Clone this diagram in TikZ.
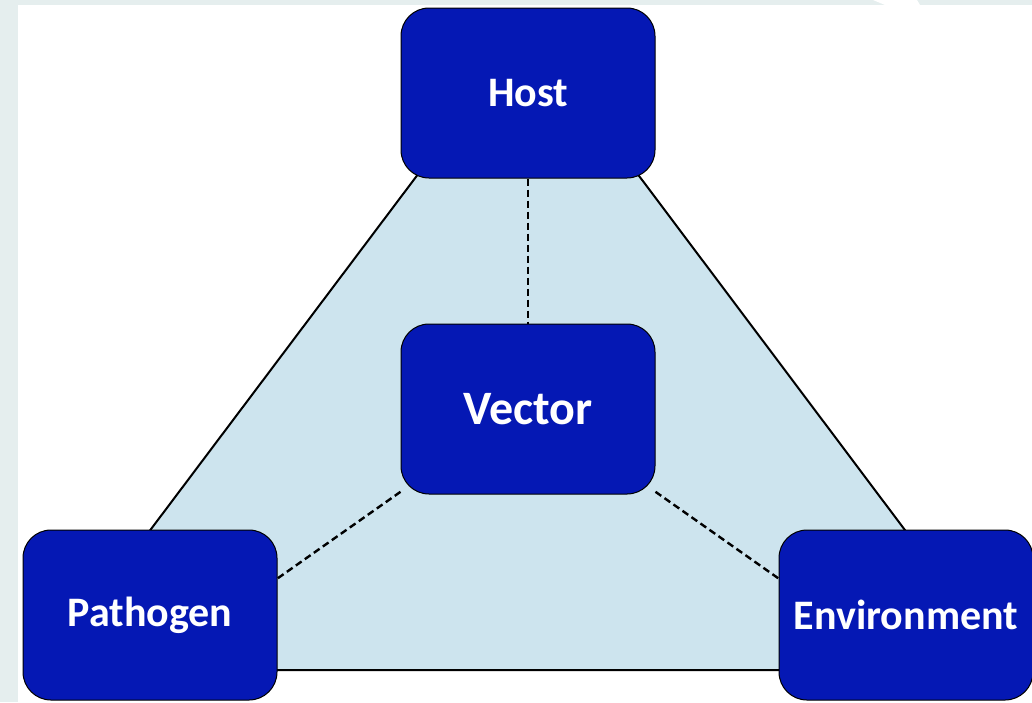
\documentclass[tikz,border=0pt]{standalone}
\usepackage{fontspec}
\setmainfont{Carlito}
\usetikzlibrary{backgrounds}
\definecolor{boxblue}{HTML}{0518B4}
\definecolor{tribg}{HTML}{CDE4EE}
\definecolor{pagegray}{HTML}{E5EEEE}
\tikzset{
  factor/.style={draw=black, line width=1pt, fill=boxblue, rounded corners=28pt,
    minimum width=254pt, minimum height=170pt, inner sep=0pt,
    text=white, font=\fontsize{42}{50}\selectfont\bfseries},
  bigfactor/.style={factor, font=\fontsize{48}{56}\selectfont\bfseries},
  link/.style={draw=black, line width=2.4pt, dash pattern=on 7pt off 4pt},
  edge/.style={draw=black, line width=2pt}
}
\begin{document}
\begin{tikzpicture}[x=1pt,y=-1pt]
\useasboundingbox (0,0) rectangle (1032,702);
\node[factor] (host) at (528,93) {Host};
\node[bigfactor] (vector) at (528,409) {Vector};
\node[factor] (pathogen) at (150,615) {Pathogen};
\node[factor] (environment) at (906,615) {Environment};
\begin{scope}[on background layer]
  \fill[pagegray] (0,0) rectangle (1032,702);
  \fill[white] (18,5) rectangle (1032,702);
  \fill[white] (873,0) -- (917,0) -- (920,5) -- (885,5) -- cycle;
  \coordinate (apex) at (528,28);
  \coordinate (bl) at (45,670);
  \coordinate (br) at (1010,670);
  \filldraw[fill=tribg, edge] (apex) -- (bl) -- (br) -- cycle;
  \draw[link] (host.south) -- (vector.north);
  \draw[link] (vector.213) -- (pathogen.16);
  \draw[link] (vector.-33) -- (environment.164);
\end{scope}
\end{tikzpicture}
\end{document}
